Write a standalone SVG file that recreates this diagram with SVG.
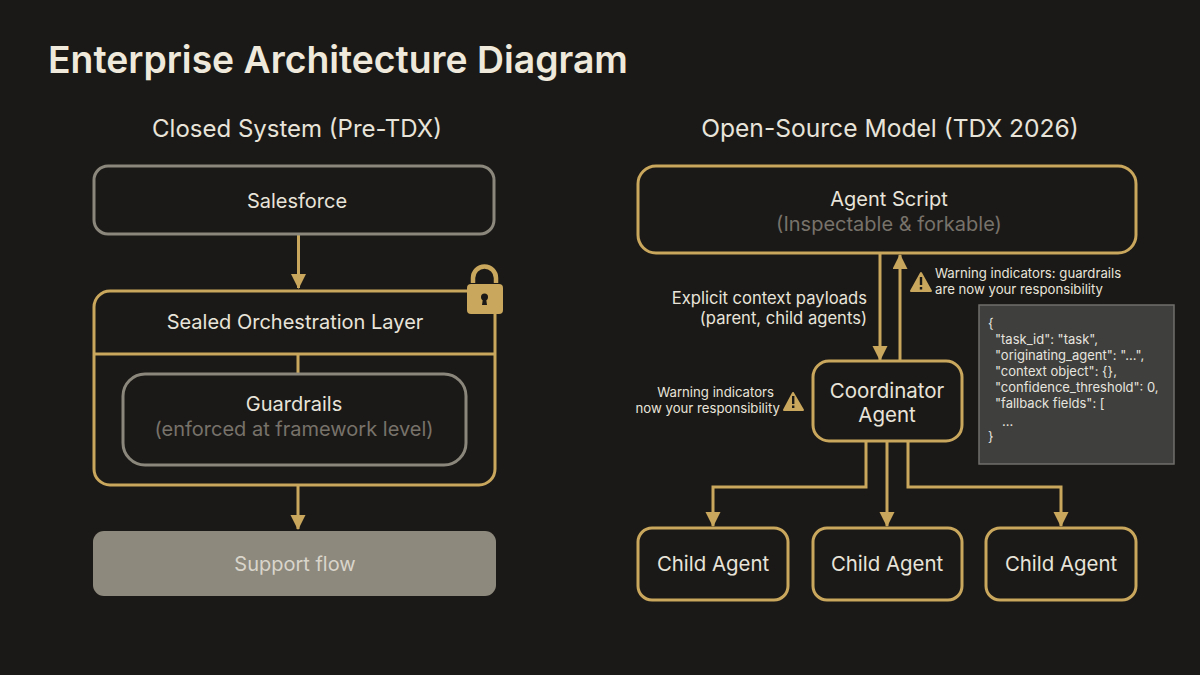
<svg xmlns="http://www.w3.org/2000/svg" width="1200" height="675" viewBox="0 0 1200 675">
<defs>
<style>
text{font-family:Inter,"Noto Sans","Liberation Sans",sans-serif;fill:#e8e4da}
.t{text-anchor:middle;font-size:20px}
.d{fill:#77726a}
.s{font-size:13.2px}
.e{text-anchor:end}
.c{font-size:13px;fill:#e6e4de}
.g{fill:none;stroke:#c9a75c;stroke-width:3}
.y{fill:none;stroke:#8b877c;stroke-width:3}
.l{fill:none;stroke:#c9a75c;stroke-width:3}
.w{fill:#c9a75c}
</style>
<marker id="a" markerUnits="userSpaceOnUse" markerWidth="15" markerHeight="16" refX="14" refY="7.500" orient="auto"><path d="M0 0L15 7.500L0 15Z" fill="#c9a75c"/></marker>
</defs>
<rect width="1200" height="675" fill="#1b1917"/>
<text x="48" y="73" style="font-size:37.300px;font-weight:600;fill:#efe9dc">Enterprise Architecture Diagram</text>
<text x="297" y="137" class="t" style="font-size:24px">Closed System (Pre-TDX)</text>
<text x="890" y="137" class="t" style="font-size:24.600px">Open-Source Model (TDX 2026)</text>
<g id="connectors">
<path class="l" d="M298.500 235V288" marker-end="url(#a)"/>
<path class="l" d="M298 354V374"/>
<path class="l" d="M298 485V529" marker-end="url(#a)"/>
<path class="l" d="M880 253V360" marker-end="url(#a)"/>
<path class="l" d="M900 360V255" marker-end="url(#a)"/>
<path class="l" d="M866 442V487H713V526" marker-end="url(#a)"/>
<path class="l" d="M887 442V526" marker-end="url(#a)"/>
<path class="l" d="M908 442V487H1061V526" marker-end="url(#a)"/>
</g>
<g id="salesforce"><rect class="y" x="94" y="166" width="400" height="68" rx="14"/><text class="t" x="297" y="208">Salesforce</text></g>
<g id="sealed"><rect class="g" x="94" y="291" width="401" height="194" rx="16"/><path class="g" d="M94 354H495"/><text class="t" x="295" y="329">Sealed Orchestration Layer</text>
<g id="lock"><path d="M473 283V278a11.500 11.500 0 0 1 23 0V283" fill="none" stroke="#c9a75c" stroke-width="4.500"/><rect x="467" y="284" width="36" height="30" rx="4" fill="#c9a75c"/><circle cx="484.500" cy="297" r="3.500" fill="#1b1917"/><path d="M483 298h3l1 7h-5Z" fill="#1b1917"/></g></g>
<g id="guardrails"><rect class="y" x="123" y="374" width="343" height="91" rx="22"/><text class="t" x="294" y="411">Guardrails</text><text class="t d" x="294" y="436">(enforced at framework level)</text></g>
<g id="support"><rect x="93" y="531" width="403" height="65" rx="11" fill="#8e897d"/><text class="t" x="295" y="571" style="fill:#d9d5cb">Support flow</text></g>
<g id="agent-script"><rect class="g" x="638" y="166" width="498" height="87" rx="18"/><text class="t" x="889" y="206">Agent Script</text><text class="t d" x="889" y="231">(Inspectable &amp; forkable)</text></g>
<g id="coordinator"><rect class="g" x="813" y="361" width="149" height="80" rx="16"/><text class="t" x="887" y="398" style="font-size:20.500px">Coordinator</text><text class="t" x="887" y="422" style="font-size:20.500px">Agent</text></g>
<g id="child1"><rect class="g" x="638" y="528" width="150" height="72" rx="14"/><text class="t" x="713" y="571" style="font-size:20.400px">Child Agent</text></g>
<g id="child2"><rect class="g" x="813" y="528" width="149" height="72" rx="14"/><text class="t" x="887" y="571" style="font-size:20.400px">Child Agent</text></g>
<g id="child3"><rect class="g" x="986" y="528" width="150" height="72" rx="14"/><text class="t" x="1061" y="571" style="font-size:20.400px">Child Agent</text></g>
<g id="label-payloads"><text class="e" x="867" y="304" style="font-size:16.600px">Explicit context payloads</text><text class="e" x="867" y="324" style="font-size:16.600px">(parent, child agents)</text></g>
<g id="warn1"><path class="w" d="M921 273L931 291H911Z" stroke="#c9a75c" stroke-width="2" stroke-linejoin="round"/><path d="M919.800 277h2.400v8h-2.400zM919.800 287h2.400v2.400h-2.400z" fill="#1b1917"/><text class="s" x="935" y="278">Warning indicators: guardrails</text><text class="s" x="935" y="294">are now your responsibility</text></g>
<g id="warn2"><path class="w" d="M793 393L803 410H784Z" stroke="#c9a75c" stroke-width="2" stroke-linejoin="round"/><path d="M792 396h2.400v8h-2.400zM792 405.500h2.400v2.400h-2.400z" fill="#1b1917"/><text class="s e" x="774" y="397">Warning indicators</text><text class="s e" x="780" y="413">now your responsibility</text></g>
<g id="json"><rect x="979" y="305" width="195" height="159" fill="#3f3f3e" stroke="#706f6c" stroke-width="1.500"/>
<text class="c" x="988" y="328">{</text>
<text class="c" x="995" y="344">"task_id": "task",</text>
<text class="c" x="995" y="360">"originating_agent": "...",</text>
<text class="c" x="995" y="376">"context object": {},</text>
<text class="c" x="995" y="392">"confidence_threshold": 0,</text>
<text class="c" x="995" y="408">"fallback fields": [</text>
<text class="c" x="1002" y="426">...</text>
<text class="c" x="988" y="441">}</text></g>
</svg>
